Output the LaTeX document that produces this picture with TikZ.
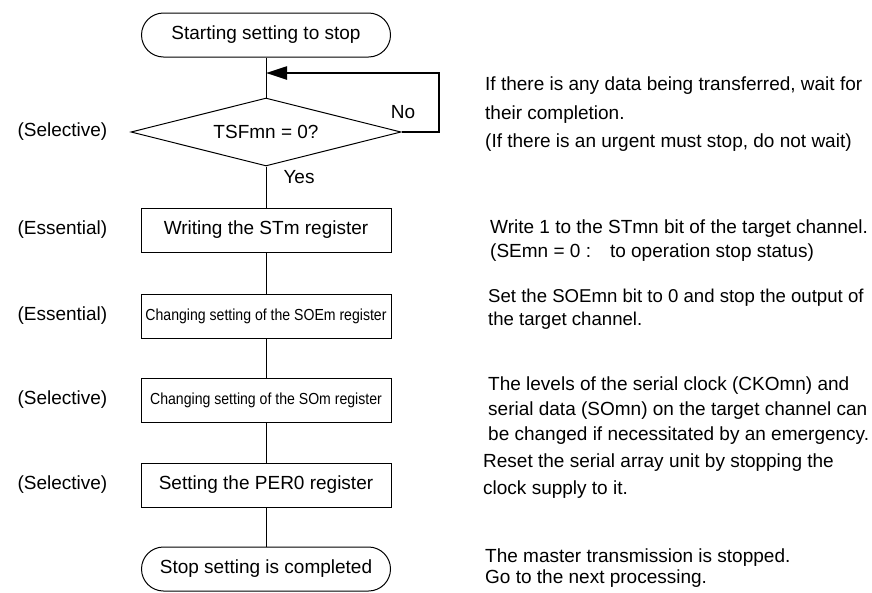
\documentclass[tikz,border=0pt]{standalone}
\usepackage{fontspec}
\setmainfont{Liberation Sans}
\newfontfamily\narrowfont[FakeStretch=0.88]{Liberation Sans}
\usetikzlibrary{arrows.meta,positioning,shapes.geometric}

\begin{document}
\begin{tikzpicture}[x=1pt,y=-1pt,every node/.style={font=\fontsize{19}{24}\selectfont},
  term/.style={draw,line width=1pt,rounded corners=22pt,minimum width=249pt,minimum height=44pt,inner sep=0pt},
  proc/.style={draw,line width=1pt,minimum width=250pt,minimum height=44pt,inner sep=0pt},
  cond/.style={draw,line width=1pt,diamond,aspect=4,minimum width=270pt,minimum height=68pt,inner sep=0pt},
  small/.style={font=\narrowfont\fontsize{16}{20}\selectfont},
  note/.style={anchor=north west,align=left,inner sep=0pt}]
\useasboundingbox (0,0) rectangle (872,592);
\node[term] (start) at (266,35) {Starting setting to stop};
\node[cond] (tsf) at (266,132) {TSFmn = 0?};
\node[proc] (wst) at (266,230) {Writing the STm register};
\node[proc,small] (soe) at (266,316) {Changing setting of the SOEm register};
\node[proc,small] (som) at (266,400) {Changing setting of the SOm register};
\node[proc] (per) at (266,485) {Setting the PER0 register};
\node[term] (stop) at (266,569) {Stop setting is completed};
\coordinate (back) at (266,73);
\coordinate (turn) at (439,73);
\draw[line width=1pt] (start) -- (tsf) -- (wst) -- (soe) -- (som) -- (per) -- (stop);
\draw[line width=2.3pt,-{Triangle[length=21pt,width=13pt]}] (tsf.east) -| (turn) -- (back);
\node (no) at (403,112) {No};
\node (yes) at (299,177) {Yes};
\coordinate (lbl) at (14,0);
\node[anchor=west] (l1) at (lbl |- tsf) {(Selective)};
\node[anchor=west] (l2) at (lbl |- wst) {(Essential)};
\node[anchor=west] (l3) at (lbl |- soe) {(Essential)};
\node[anchor=west] (l4) at (lbl |- som) {(Selective)};
\node[anchor=west] (l5) at (lbl |- per) {(Selective)};
\node[note,font=\fontsize{19}{28.5}\selectfont] (n1) at (485,77) {If there is any data being transferred, wait for\\their completion.\\(If there is an urgent must stop, do not wait)};
\node[note,font=\fontsize{19}{24}\selectfont] (n2) at (490,220) {Write 1 to the STmn bit of the target channel.\\(SEmn = 0 :\hspace{19pt}to operation stop status)};
\node[note,font=\fontsize{18.6}{23}\selectfont] (n3) at (488,289) {Set the SOEmn bit to 0 and stop the output of\\the target channel.};
\node[note,font=\fontsize{19}{25}\selectfont] (n4) at (488,377) {The levels of the serial clock (CKOmn) and\\serial data (SOmn) on the target channel can\\be changed if necessitated by an emergency.};
\node[note,font=\fontsize{19}{27}\selectfont] (n5) at (483,454) {Reset the serial array unit by stopping the\\clock supply to it.};
\node[note,font=\fontsize{19}{21}\selectfont] (n6) at (485,549) {The master transmission is stopped.\\Go to the next processing.};
\end{tikzpicture}
\end{document}
